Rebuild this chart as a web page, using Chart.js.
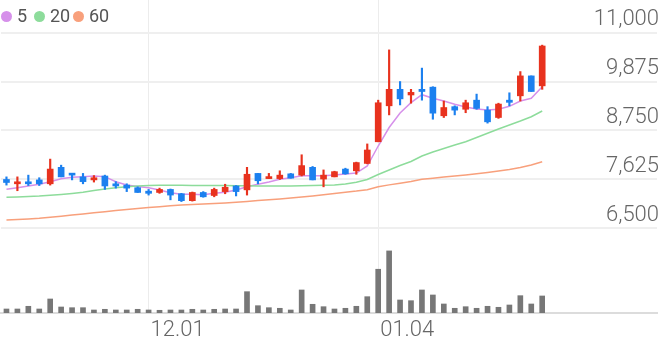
<!DOCTYPE html>
<html>
<head>
<meta charset="utf-8">
<script src="https://cdn.jsdelivr.net/npm/chart.js@4.4.0/dist/chart.umd.min.js"></script>
<style>
  body { margin: 0; background: #fff; }
  .wrap { position: relative; width: 658px; height: 342px; }
  .legend { position: absolute; left: 0; top: 0; font: 18px Roboto, sans-serif; color: #555; }
  .legend .dot { position: absolute; top: 11px; width: 11px; height: 11px; border-radius: 50%; }
  .legend .txt { position: absolute; top: 5px; line-height: 22px; }
</style>
</head>
<body>
<div class="wrap">
  <canvas id="myChart" width="658" height="342"></canvas>
  <div class="legend">
    <span class="dot" style="left:1px;background:#d690ea"></span><span class="txt" style="left:17px">5</span>
    <span class="dot" style="left:34px;background:#8ddc9b"></span><span class="txt" style="left:50px">20</span>
    <span class="dot" style="left:73px;background:#f8a07c"></span><span class="txt" style="left:89px">60</span>
  </div>
</div>
<script>
// Etiquetas del eje x (60 posiciones, solo 50 con velas)
const categories = ['', '', '', '', '', '', '', '', '', '', '', '', '', '12.01', '', '', '', '', '', '',
  '', '', '', '', '', '', '', '', '', '', '', '', '', '', '01.04', '', '', '', '', '',
  '', '', '', '', '', '', '', '', '', '', '', '', '', '', '', '', '', '', '', ''];

// Precios (apertura, maximo, minimo, cierre)
const opens = [7620, 7520, 7560, 7610, 7520, 7900, 7760, 7680, 7610, 7700, 7520, 7490, 7430, 7350, 7320, 7390, 7290, 7130, 7320, 7250,
  7340, 7470, 7380, 7760, 7640, 7640, 7750, 7720, 7900, 7630, 7680, 7860, 7820, 7990, 8490, 9320, 9700, 9570, 9700, 9750,
  9090, 9300, 9240, 9450, 9220, 9050, 9450, 9550, 10010, 9780];
const highs = [7680, 7680, 7720, 7660, 8090, 7950, 7760, 7760, 7710, 7720, 7570, 7520, 7450, 7390, 7420, 7400, 7300, 7330, 7340, 7420,
  7510, 7480, 7900, 7760, 7760, 7820, 7760, 8190, 7920, 7840, 7810, 7880, 8020, 8440, 9450, 10610, 9880, 9700, 10190, 9760,
  9430, 9320, 9450, 9590, 9300, 9380, 9620, 10110, 10010, 10720];
const lows = [7490, 7360, 7480, 7480, 7490, 7680, 7610, 7520, 7560, 7390, 7420, 7340, 7320, 7260, 7300, 7150, 7110, 7120, 7210, 7220,
  7290, 7240, 7260, 7520, 7640, 7620, 7650, 7700, 7610, 7450, 7680, 7740, 7740, 7980, 8490, 9110, 9340, 9380, 9450, 9010,
  9050, 9110, 9160, 9240, 8920, 9030, 9320, 9430, 9650, 9700];
const closes = [7550, 7560, 7520, 7520, 7860, 7680, 7720, 7570, 7660, 7470, 7470, 7420, 7320, 7300, 7390, 7260, 7130, 7320, 7220, 7390,
  7440, 7340, 7740, 7590, 7670, 7720, 7650, 7940, 7610, 7720, 7800, 7750, 8010, 8300, 9390, 9700, 9480, 9630, 9650, 9150,
  9280, 9220, 9390, 9260, 8950, 9360, 9400, 10010, 9650, 10700];

// Medias moviles
const ma5 = [7393, 7430, 7469, 7508, 7568, 7638, 7670, 7684, 7700, 7684, 7568, 7492, 7458, 7430, 7377, 7315, 7278, 7278, 7268, 7301,
  7324, 7377, 7453, 7508, 7562, 7624, 7661, 7707, 7707, 7707, 7723, 7746, 7769, 7931, 8392, 8819, 9154, 9392, 9576, 9493,
  9431, 9355, 9292, 9246, 9223, 9239, 9308, 9431, 9493, 9761];
const ma20 = [7208, 7215, 7227, 7238, 7255, 7273, 7296, 7324, 7365, 7400, 7430, 7453, 7469, 7481, 7485, 7485, 7485, 7483, 7481, 7481,
  7478, 7476, 7474, 7472, 7469, 7469, 7469, 7474, 7481, 7485, 7492, 7515, 7555, 7619, 7735, 7838, 7942, 8035, 8162, 8254,
  8335, 8415, 8492, 8588, 8685, 8785, 8877, 8969, 9068, 9200];
const ma60 = [6685, 6696, 6708, 6724, 6747, 6772, 6800, 6825, 6851, 6876, 6902, 6927, 6952, 6971, 6992, 7012, 7031, 7045, 7056, 7068,
  7079, 7093, 7112, 7132, 7151, 7172, 7194, 7216, 7240, 7265, 7295, 7325, 7352, 7385, 7450, 7495, 7535, 7573, 7624, 7649,
  7677, 7700, 7723, 7751, 7781, 7815, 7850, 7896, 7954, 8030];

// Volumen
const volumes = [40000, 40000, 67000, 40000, 140000, 60000, 53000, 53000, 30000, 37000, 30000, 30000, 37000, 30000, 27000, 30000, 30000, 37000, 30000, 37000,
  40000, 40000, 213000, 73000, 53000, 47000, 30000, 230000, 87000, 63000, 40000, 47000, 67000, 163000, 437000, 620000, 130000, 123000, 230000, 180000,
  90000, 47000, 63000, 47000, 67000, 57000, 80000, 173000, 90000, 170000];

// Marcas del eje de precios
const priceTicks = [6500, 7625, 8750, 9875, 11000];

const upColor = '#e8321e';
const downColor = '#1c80ef';
const tickFont = { family: 'Roboto', size: 22, weight: 300 };

const candleColor = (c) => closes[c.dataIndex] >= opens[c.dataIndex] ? upColor : downColor;

const maLine = (data, color) => ({
    type: 'line',
    data: data,
    borderColor: color,
    borderWidth: 1.5,
    pointRadius: 0,
    tension: 0,
    yAxisID: 'y',
    order: 3
});

const ctx = document.getElementById('myChart');
new Chart(ctx, {
    type: 'bar',
    data: {
        labels: categories,
        datasets: [
            maLine(ma60, '#f8a07c'),
            maLine(ma20, '#8ddc9b'),
            maLine(ma5, '#d690ea'),
            {
                data: lows.map((l, i) => [l, highs[i]]),
                backgroundColor: candleColor,
                barThickness: 1.5,
                grouped: false,
                yAxisID: 'y',
                order: 1
            },
            {
                data: opens.map((o, i) => [o, closes[i]]),
                backgroundColor: candleColor,
                barThickness: 6,
                minBarLength: 2,
                grouped: false,
                yAxisID: 'y',
                order: 0
            },
            {
                data: volumes,
                backgroundColor: '#777777',
                barThickness: 5,
                grouped: false,
                yAxisID: 'v',
                order: 2
            }
        ]
    },
    options: {
        responsive: false,
        animation: false,
        layout: { autoPadding: false, padding: { left: 1, right: 1 } },
        plugins: {
            legend: { display: false },
            tooltip: { enabled: false }
        },
        scales: {
            x: {
                offset: true,
                afterFit: (axis) => {
                    axis.height = 29;
                    axis.paddingLeft = 0;
                    axis.paddingRight = 0;
                },
                grid: {
                    offset: false,
                    drawTicks: false,
                    lineWidth: 1,
                    color: (c) => (c.tick && c.tick.label) ? '#ececec' : 'rgba(0,0,0,0)'
                },
                border: { display: true, color: '#dcdcdc', width: 2 },
                ticks: {
                    autoSkip: false,
                    maxRotation: 0,
                    align: 'start',
                    padding: 4,
                    labelOffset: 2,
                    color: '#666',
                    font: tickFont
                }
            },
            y: {
                position: 'right',
                min: 4538.5,
                max: 11761.5,
                afterBuildTicks: (axis) => {
                    axis.ticks = priceTicks.map(v => ({ value: v }));
                },
                afterFit: (axis) => {
                    axis.width = 0;
                    axis.paddingTop = 0;
                    axis.paddingBottom = 0;
                },
                grid: { color: '#efefef', lineWidth: 2, drawTicks: false },
                border: { display: false },
                ticks: {
                    mirror: true,
                    padding: 2,
                    labelOffset: -13,
                    color: '#666',
                    font: tickFont,
                    callback: (v) => v.toLocaleString('en-US')
                }
            },
            v: {
                display: false,
                min: 0,
                max: 3126000
            }
        }
    }
});
</script>
</body>
</html>
